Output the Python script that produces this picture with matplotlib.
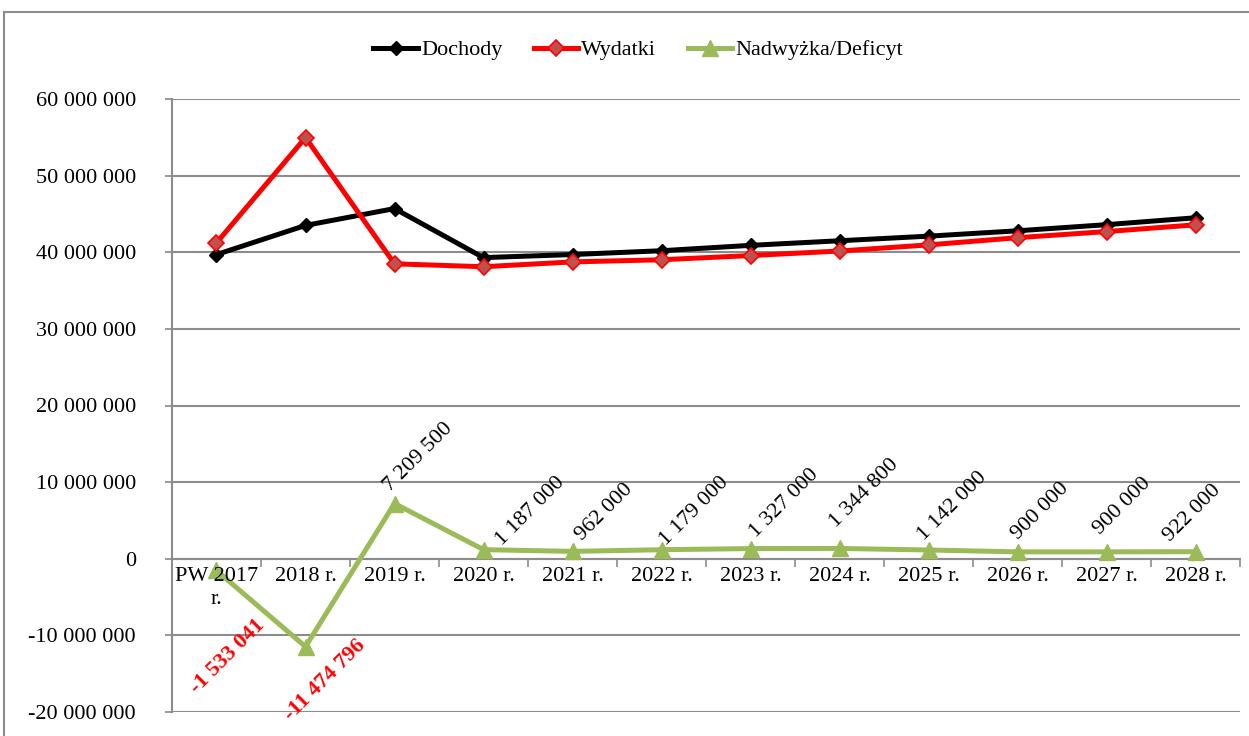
import matplotlib
matplotlib.use("Agg")
import matplotlib.pyplot as plt
from matplotlib.patches import Rectangle
from matplotlib.ticker import FuncFormatter, FixedLocator

categories = ["PW 2017\nr.", "2018 r.", "2019 r.", "2020 r.", "2021 r.", "2022 r.",
              "2023 r.", "2024 r.", "2025 r.", "2026 r.", "2027 r.", "2028 r."]
dochody = [39.7e6, 43.5e6, 45.7e6, 39.3e6, 39.7e6, 40.2e6, 40.9e6, 41.5e6,
           42.1e6, 42.8e6, 43.6e6, 44.5e6]
wydatki = [41.23e6, 54.97e6, 38.49e6, 38.11e6, 38.74e6, 39.02e6, 39.57e6,
           40.16e6, 40.96e6, 41.9e6, 42.7e6, 43.58e6]
nadwyzka = [-1533041, -11474796, 7209500, 1187000, 962000, 1179000, 1327000,
            1344800, 1142000, 900000, 900000, 922000]
series_names = ["Dochody", "Wydatki", "Nadwyżka/Deficyt"]

FONT = ["Liberation Serif", "DejaVu Serif"]
plt.rcParams["font.family"] = FONT

def fmt(v):
    s = f"{abs(int(round(v))):,}".replace(",", " ")
    return ("-" if v < 0 else "") + s

fig = plt.figure(figsize=(12.49, 7.36), dpi=100)
ax = fig.add_axes([172/1249, 1-712/736, (1240-172)/1249, (712-99)/736])

x = list(range(len(categories)))
l1, = ax.plot(x, dochody, color="black", lw=3.6, marker="D", ms=7,
              mfc="black", mec="black", zorder=3, label=series_names[0])
l2, = ax.plot(x, wydatki, color="#FF0000", lw=3.6, marker="D", ms=8,
              mfc="#C0504D", mec="#FF0000", mew=1.2, zorder=4, label=series_names[1])
l3, = ax.plot(x, nadwyzka, color="#9BBB59", lw=3.6, marker="^", ms=11,
              mfc="#9BBB59", mec="#9BBB59", zorder=5, label=series_names[2])

ax.set_xlim(-0.5, len(categories) - 0.5)
ax.set_ylim(-20e6, 60e6)
ax.yaxis.set_major_locator(FixedLocator([i * 10e6 for i in range(-2, 7)]))
ax.yaxis.set_major_formatter(FuncFormatter(lambda v, p: fmt(v)))
ax.tick_params(axis="y", length=5, width=1.2, color="#888888", labelsize=16, pad=21)
ax.grid(axis="y", color="#8c8c8c", lw=1.5, zorder=1)
ax.set_axisbelow(True)

for s in ["top", "right"]:
    ax.spines[s].set_visible(False)
ax.spines["left"].set_color("#8c8c8c")
ax.spines["left"].set_linewidth(1.5)
ax.spines["bottom"].set_position(("data", 0))
ax.spines["bottom"].set_color("#8c8c8c")
ax.spines["bottom"].set_linewidth(1.5)

ax.set_xticks(x)
ax.set_xticklabels(categories, fontsize=16, linespacing=1.25)
ax.tick_params(axis="x", which="major", length=0, pad=6)
ax.set_xticks([i - 0.5 for i in range(len(categories) + 1)], minor=True)
ax.tick_params(axis="x", which="minor", length=6, width=1.2, color="#8c8c8c",
               direction="out")
ax.xaxis.set_zorder(6)

# data label placement (pixel offsets of label start from the point)
pos_offsets_px = {2: (-4, 12), 3: (18, 4), 4: (10, 10), 5: (5, 4), 6: (5, 11),
                  7: (-4, 20), 8: (-4, 9), 9: (0, 12), 10: (-7, 17), 11: (-25, 10)}
neg_offsets = {0: (8, -62), 1: (14, -24)}
for i, v in enumerate(nadwyzka):
    if v >= 0:
        dx, dy = pos_offsets_px.get(i, (0, 10))
        ax.annotate(fmt(v), (i, v), xytext=(dx * 0.72, dy * 0.72),
                    textcoords="offset points",
                    rotation=45, rotation_mode="anchor", ha="left", va="baseline",
                    fontsize=16, color="black", zorder=6)
    else:
        dx, dy = neg_offsets.get(i, (8, -40))
        ax.annotate(fmt(v), (i, v), xytext=(dx, dy), textcoords="offset points",
                    rotation=45, rotation_mode="anchor", ha="center", va="center",
                    fontsize=16, color="#FF0000", fontweight="bold", zorder=6,
                    annotation_clip=False)

fig.legend(handles=[l1, l2, l3], loc="center", bbox_to_anchor=(0.511, 0.932),
           ncol=3, frameon=False, fontsize=16, handlelength=2.0,
           handletextpad=0.15, columnspacing=1.4)

fig.patches.append(Rectangle((4/1249, -0.1), 1.2, 1 - 12/736 + 0.1,
                             transform=fig.transFigure, fill=False,
                             ec="#8c8c8c", lw=1.5))

fig.savefig("out.png", dpi=100)
